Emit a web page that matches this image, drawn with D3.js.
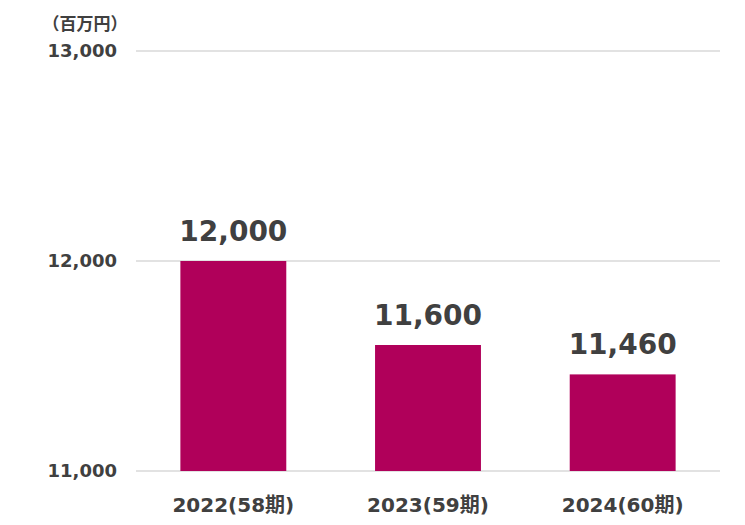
<!DOCTYPE html>
<html><head><meta charset="utf-8">
<script src="https://cdn.jsdelivr.net/npm/d3@7"></script>
<style>
body{margin:0;background:#fff;}
text{font-family:"DejaVu Sans","Noto Sans CJK JP",sans-serif;font-weight:bold;fill:#404040;}
</style></head>
<body><svg id="c" width="745" height="525"></svg>
<script>
const categories = ["2022(58期)", "2023(59期)", "2024(60期)"];
const values = [12000, 11600, 11460];
const yTicks = [11000, 12000, 13000];
const unitLabel = "（百万円）";

const svg = d3.select("#c");
const m = {left:136, right:720, top:51, bottom:471};
const x = d3.scaleBand().domain(categories).range([m.left, m.right]).paddingInner(0.456).paddingOuter(0.228);
const y = d3.scaleLinear().domain([11000, 13000]).range([m.bottom, m.top]);
const fmt = d3.format(",");

// gridlines
svg.append("g").selectAll("line").data(yTicks).join("line")
  .attr("x1", m.left).attr("x2", m.right)
  .attr("y1", d => y(d)).attr("y2", d => y(d))
  .attr("stroke", "#d9d9d9").attr("stroke-width", 1.3);

// y tick labels
svg.append("g").selectAll("text").data(yTicks).join("text")
  .attr("x", 117).attr("y", d => y(d)).attr("dy", "0.36em")
  .attr("text-anchor", "end").attr("font-size", 18)
  .text(d => fmt(d));

svg.append("text").attr("x", 85).attr("y", 30).attr("text-anchor", "middle")
  .attr("font-family", "'Noto Sans CJK JP',sans-serif")
  .attr("font-size", 17).text(unitLabel);

// bars
svg.append("g").selectAll("rect").data(values).join("rect")
  .attr("x", (d,i) => x(categories[i])).attr("width", x.bandwidth())
  .attr("y", d => y(d)).attr("height", d => y(11000) - y(d))
  .attr("fill", "#b0005a");

// value labels
svg.append("g").selectAll("text").data(values).join("text")
  .attr("x", (d,i) => x(categories[i]) + x.bandwidth()/2)
  .attr("y", d => y(d) - 20)
  .attr("text-anchor", "middle").attr("font-size", 28)
  .text(d => fmt(d));

// category labels
svg.append("g").selectAll("text").data(categories).join("text")
  .attr("x", d => x(d) + x.bandwidth()/2).attr("y", 512)
  .attr("text-anchor", "middle").attr("font-size", 20)
  .text(d => d);
</script></body></html>
